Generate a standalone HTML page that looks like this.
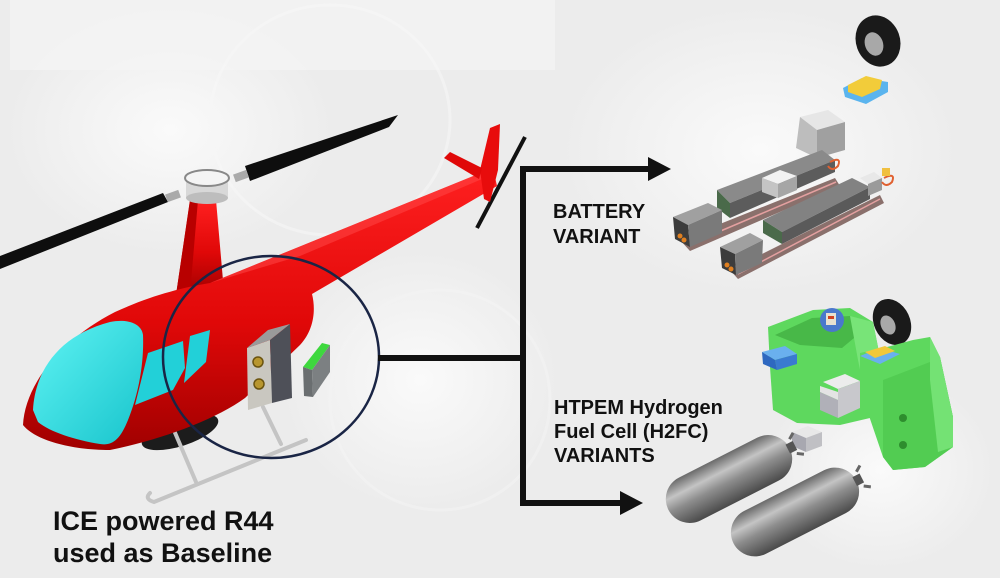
<!DOCTYPE html>
<html><head><meta charset="utf-8"><style>
html,body{margin:0;padding:0;background:#ededed;width:1000px;height:578px;overflow:hidden;}
svg{display:block;position:absolute;left:0;top:0;}
text{font-family:"Liberation Sans",Arial,sans-serif;font-weight:bold;fill:#111;}
</style></head><body>
<svg width="1000" height="578" viewBox="0 0 1000 578" xmlns="http://www.w3.org/2000/svg">
<defs>
<radialGradient id="bg1" cx="0.5" cy="0.5" r="0.5"><stop offset="0" stop-color="#fafafa"/><stop offset="1" stop-color="#fafafa" stop-opacity="0"/></radialGradient>
<linearGradient id="red" x1="0" y1="0" x2="0" y2="1"><stop offset="0" stop-color="#ff2020"/><stop offset="0.55" stop-color="#e00808"/><stop offset="1" stop-color="#a00000"/></linearGradient>
<linearGradient id="cyan" x1="0" y1="0" x2="1" y2="1"><stop offset="0" stop-color="#60f4f4"/><stop offset="1" stop-color="#18c4cc"/></linearGradient>
<linearGradient id="tank" x1="0" y1="0" x2="0" y2="1"><stop offset="0" stop-color="#6a6a6a"/><stop offset="0.3" stop-color="#c4c4c4"/><stop offset="0.55" stop-color="#8e8e8e"/><stop offset="1" stop-color="#4a4a4a"/></linearGradient>
</defs>
<rect width="1000" height="578" fill="#ececec"/>
<ellipse cx="170" cy="130" rx="165" ry="125" fill="url(#bg1)"/>
<ellipse cx="420" cy="380" rx="140" ry="130" fill="url(#bg1)"/>
<ellipse cx="760" cy="150" rx="200" ry="145" fill="url(#bg1)"/>
<ellipse cx="880" cy="470" rx="115" ry="100" fill="url(#bg1)"/>
<rect x="10" y="0" width="545" height="70" fill="#f4f4f4" opacity="0.8"/>
<ellipse cx="330" cy="120" rx="120" ry="115" fill="none" stroke="#f6f6f6" stroke-width="3" opacity="0.6"/>
<ellipse cx="440" cy="400" rx="110" ry="110" fill="none" stroke="#f4f4f4" stroke-width="3" opacity="0.6"/>

<!-- main rotor blades -->
<polygon points="0,256 163,193 168,202 0,269" fill="#0e0e0e"/>
<polygon points="245,166 398,115 389,127 250,181" fill="#0e0e0e"/>
<!-- tail rotor -->
<line x1="477" y1="228" x2="525" y2="137" stroke="#111" stroke-width="4"/>

<!-- belly black -->
<ellipse cx="180" cy="432" rx="40" ry="14" transform="rotate(-18 180 432)" fill="#1c1c1c"/>
<!-- skids -->
<g stroke="#c4c4c4" stroke-width="4" fill="none" stroke-linecap="round">
<line x1="173" y1="428" x2="196" y2="482"/>
<line x1="263" y1="407" x2="281" y2="444"/>
<path d="M150,493 Q144,499 154,502 L306,440"/>
</g>

<!-- mast -->
<polygon points="190,200 216,200 224,292 176,295" fill="url(#red)"/>
<polygon points="190,200 198,200 190,294 176,295" fill="#b80000"/>
<!-- hub -->
<rect x="186" y="178" width="42" height="20" fill="#d8d8d8"/>
<ellipse cx="207" cy="198" rx="21" ry="6" fill="#bdbdbd"/>
<ellipse cx="207" cy="178" rx="22" ry="8" fill="#f4f4f4" stroke="#888" stroke-width="2"/>
<rect x="166" y="192" width="14" height="8" fill="#aaa" transform="rotate(-20 173 196)"/>
<rect x="234" y="172" width="14" height="8" fill="#aaa" transform="rotate(-20 241 176)"/>

<!-- fuselage -->
<path d="M23,425 C25,385 60,340 115,312 C150,296 180,288 210,283 L493,168 L497,186 L312,294 C316,310 314,330 300,345 L245,398 C215,420 160,440 110,450 C70,450 35,440 23,425 Z" fill="url(#red)"/>
<path d="M210,283 L493,168 L494,174 L300,256 Z" fill="#ff4a4a" opacity="0.5"/>
<!-- tail fin -->
<polygon points="480,170 490,128 500,124 498,170 490,202 484,199" fill="#e80c0c"/>
<polygon points="444,158 450,152 482,168 479,179" fill="#e00808"/>
<!-- windshield -->
<path d="M33,410 C35,370 60,335 110,322 C130,318 142,325 143,335 C144,360 140,390 128,420 C120,440 112,446 100,444 C75,440 50,432 38,422 Z" fill="url(#cyan)"/>
<polygon points="148,353 183,341 185,368 173,390 135,405" fill="#22d0d8"/>
<polygon points="190,336 210,330 206,362 184,383" fill="#22d0d8"/>

<!-- engine box -->
<polygon points="247,348 270,340 272,403 248,410" fill="#c9c7c0"/>
<polygon points="270,340 290,324 292,398 272,403" fill="#4e5058"/>
<polygon points="247,348 268,330 290,324 270,340" fill="#9a9a9a"/>
<circle cx="258" cy="362" r="5" fill="#b8962e" stroke="#6b5410" stroke-width="1.5"/>
<circle cx="259" cy="384" r="5" fill="#b8962e" stroke="#6b5410" stroke-width="1.5"/>
<!-- green box -->
<polygon points="303,367 322,343 330,345 312,370" fill="#3ed83e"/>
<polygon points="303,367 312,370 313,397 304,396" fill="#6a6e70"/>
<polygon points="312,370 330,345 330,372 313,397" fill="#7c8082"/>

<!-- circle -->
<ellipse cx="271" cy="357" rx="108" ry="101" fill="none" stroke="#1a2545" stroke-width="2.5"/>

<!-- connectors -->
<g stroke="#111" stroke-width="6" fill="none">
<line x1="378" y1="358" x2="526" y2="358"/>
<line x1="523" y1="166" x2="523" y2="506"/>
<line x1="520" y1="169" x2="652" y2="169"/>
<line x1="520" y1="503" x2="624" y2="503"/>
</g>
<polygon points="648,157 671,169 648,181" fill="#111"/>
<polygon points="620,491 643,503 620,515" fill="#111"/>

<!-- texts -->
<text x="553" y="218" font-size="20">BATTERY</text>
<text x="553" y="243" font-size="20">VARIANT</text>
<text x="554" y="414" font-size="20">HTPEM Hydrogen</text>
<text x="554" y="438" font-size="20">Fuel Cell (H2FC)</text>
<text x="554" y="462" font-size="20">VARIANTS</text>
<text x="53" y="530" font-size="27">ICE powered R44</text>
<text x="53" y="562" font-size="27">used as Baseline</text>

<!-- battery variant -->
<ellipse cx="878" cy="41" rx="22" ry="26" transform="rotate(-20 878 41)" fill="#1a1a1a"/>
<ellipse cx="874" cy="44" rx="9" ry="12" transform="rotate(-20 874 44)" fill="#a8a8a8"/>
<polygon points="843,88 862,78 888,82 888,92 866,104 845,97" fill="#5ab4ee"/>
<polygon points="848,85 866,76 882,80 880,89 862,97 848,92" fill="#f2cc3a"/>
<!-- gray box -->
<polygon points="800,117 828,110 845,122 817,130" fill="#e6e6e6"/>
<polygon points="800,117 817,130 817,158 796,148" fill="#bdbdbd"/>
<polygon points="817,130 845,122 845,150 817,158" fill="#a0a0a0"/>
<!-- pack 1 -->
<polygon points="680,240 835,178 840,186 690,251" fill="#8a706c"/>
<line x1="690" y1="244" x2="836" y2="182" stroke="#e4a0a0" stroke-width="1.5"/>
<polygon points="717,190 822,150 835,160 730,203" fill="#8a8a8a"/>
<polygon points="730,203 835,160 835,172 730,218" fill="#5c5c5c"/>
<polygon points="717,190 730,203 730,218 717,208" fill="#4a6a4a"/>
<polygon points="762,178 780,170 797,176 778,184" fill="#f2f2f2"/>
<polygon points="762,178 778,184 778,198 762,192" fill="#c4c4c4"/>
<polygon points="778,184 797,176 797,190 778,198" fill="#a6a6a6"/>
<polygon points="673,217 708,203 722,210 688,225" fill="#a0a0a0"/>
<polygon points="673,217 688,225 690,247 675,239" fill="#3c3c3c"/>
<polygon points="688,225 722,210 722,233 690,247" fill="#7a7a7a"/>
<circle cx="680" cy="236" r="2.5" fill="#e08020"/><circle cx="684" cy="240" r="2.5" fill="#e08020"/>
<path d="M830,162 q12,-6 8,4 q-6,6 -10,0" fill="none" stroke="#e06030" stroke-width="2"/>
<!-- pack 2 -->
<polygon points="730,270 880,195 884,203 738,279" fill="#8a706c"/>
<line x1="738" y1="274" x2="880" y2="199" stroke="#e4a0a0" stroke-width="1.5"/>
<polygon points="763,220 852,178 870,187 782,232" fill="#828282"/>
<polygon points="782,232 870,187 870,199 782,244" fill="#5a5a5a"/>
<polygon points="763,220 782,232 782,244 763,233" fill="#4a6a4a"/>
<polygon points="860,178 874,172 882,178 868,184" fill="#e8e8e8"/>
<polygon points="868,184 882,178 882,190 868,196" fill="#9a9a9a"/>
<polygon points="720,247 750,233 763,240 735,254" fill="#a0a0a0"/>
<polygon points="720,247 735,254 736,275 722,268" fill="#3c3c3c"/>
<polygon points="735,254 763,240 762,263 736,275" fill="#7a7a7a"/>
<circle cx="727" cy="265" r="2.5" fill="#e08020"/><circle cx="731" cy="269" r="2.5" fill="#e08020"/>
<path d="M884,178 q12,-6 8,4 q-6,6 -10,0" fill="none" stroke="#e06030" stroke-width="2"/>
<rect x="882" y="168" width="8" height="8" fill="#f0c040"/>

<!-- H2FC -->
<polygon points="768,327 813,310 850,308 873,322 880,357 878,400 870,418 840,425 797,423 773,410 770,367" fill="#5ed85e"/>
<polygon points="775,335 812,318 850,316 866,328 842,348 800,345" fill="#48b848"/>
<polygon points="850,316 873,322 880,357 878,400 870,418 858,360" fill="#78e478"/>
<circle cx="832" cy="320" r="12" fill="#4a78cc"/>
<rect x="826" y="313" width="10" height="12" fill="#e8e0d0"/>
<rect x="828" y="316" width="6" height="3" fill="#d04020"/>
<polygon points="762,352 785,346 797,354 775,360" fill="#6ab0ee"/>
<polygon points="762,352 775,360 777,370 763,364" fill="#2e68c0"/>
<polygon points="775,360 797,354 797,364 777,370" fill="#3a7ad0"/>
<polygon points="823,382 845,374 860,381 838,389" fill="#ececec"/>
<polygon points="820,392 838,400 838,418 820,410" fill="#b0b0b8"/>
<polygon points="838,389 860,381 860,408 838,418" fill="#c8c8cc"/>
<polygon points="820,386 838,392 838,400 820,392" fill="#e4e4e4"/>
<ellipse cx="892" cy="322" rx="18" ry="24" transform="rotate(-25 892 322)" fill="#1a1a1a"/>
<ellipse cx="888" cy="325" rx="7" ry="10" transform="rotate(-25 888 325)" fill="#a8a8a8"/>
<polygon points="860,353 887,347 913,340 930,337 940,357 953,417 953,447 925,467 893,470 883,457 867,410 860,373" fill="#5ed85e"/>
<polygon points="883,380 930,362 940,357 953,417 953,447 925,467 893,470 883,457" fill="#52cc52"/>
<polygon points="930,337 940,357 953,417 953,447 938,452 930,380" fill="#74e274"/>
<ellipse cx="903" cy="418" rx="4" ry="4" fill="#2e8e2e"/>
<ellipse cx="903" cy="445" rx="4" ry="4" fill="#2e8e2e"/>
<polygon points="860,356 880,348 900,354 880,364" fill="#6ab0ee"/>
<polygon points="865,352 885,346 895,351 875,358" fill="#f2c83a"/>
<polygon points="792,432 808,426 822,432 806,438" fill="#e8e8e8"/>
<polygon points="792,432 806,438 806,452 792,446" fill="#a8a8b0"/>
<polygon points="806,438 822,432 822,446 806,452" fill="#c0c0c4"/>

<!-- tanks -->
<g transform="translate(729,479) rotate(-27)">
<rect x="-68" y="-24" width="136" height="48" rx="24" fill="url(#tank)"/>
<rect x="66" y="-5" width="8" height="10" fill="#555"/>
<path d="M72,-8 l6,-4 M72,8 l6,4" stroke="#666" stroke-width="3"/>
</g>
<g transform="translate(795,512) rotate(-27)">
<rect x="-69" y="-24" width="138" height="48" rx="24" fill="url(#tank)"/>
<rect x="67" y="-5" width="8" height="10" fill="#555"/>
<path d="M73,-8 l6,-4 M73,8 l6,4" stroke="#666" stroke-width="3"/>
</g>
</svg>
</body></html>
